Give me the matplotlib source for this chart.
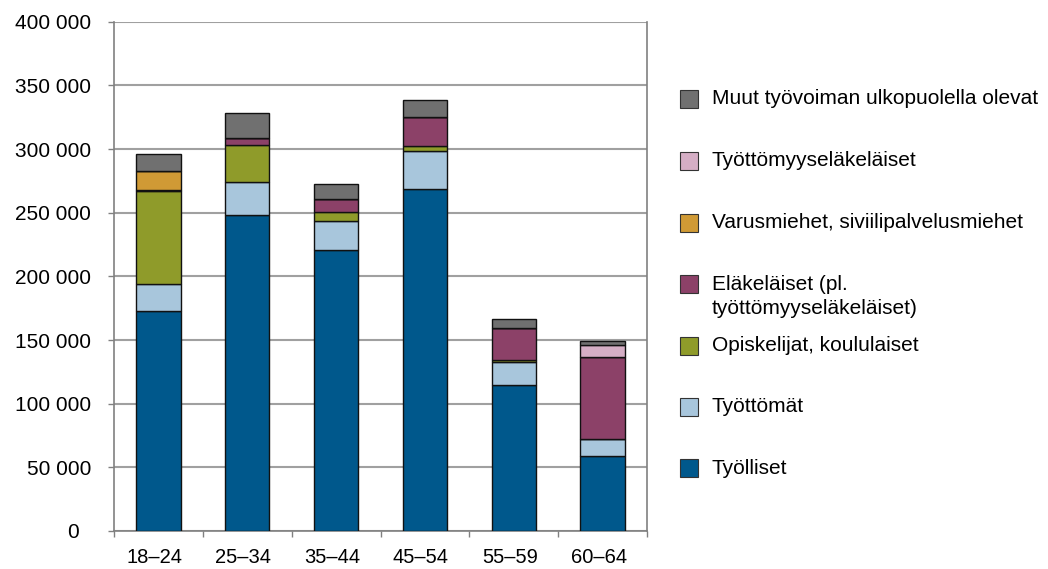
import matplotlib
matplotlib.use("Agg")
import matplotlib.pyplot as plt
from matplotlib.patches import Rectangle
from matplotlib.transforms import ScaledTranslation
import numpy as np

plt.rcParams['font.family'] = ['Liberation Sans', 'DejaVu Sans']

categories = ["18–24", "25–34", "35–44", "45–54", "55–59", "60–64"]

tyolliset = [172500, 248000, 220500, 268600, 114400, 58900]
tyottomat = [21200, 26000, 22700, 29800, 18600, 13100]
opiskelijat = [73300, 29500, 7100, 4200, 1000, 0]
elakelaiset = [1000, 4900, 10200, 22800, 25700, 65000]
varusmiehet = [15000, 500, 0, 0, 0, 0]
tyottomyyselak = [0, 0, 0, 0, 0, 8700]
muut = [13000, 19600, 11800, 12800, 6600, 3300]

series_names = [
    "Työlliset",
    "Työttömät",
    "Opiskelijat, koululaiset",
    "Eläkeläiset (pl.\ntyöttömyyseläkeläiset)",
    "Varusmiehet, siviilipalvelusmiehet",
    "Työttömyyseläkeläiset",
    "Muut työvoiman ulkopuolella olevat",
]
series_values = [tyolliset, tyottomat, opiskelijat, elakelaiset,
                 varusmiehet, tyottomyyselak, muut]
colors = ["#00588C", "#A8C6DC", "#8F9B2A", "#8C4168",
          "#D09A35", "#D5AEC5", "#707070"]

FS = 14.5
FS_Y = 15
FS_LEG = 15

fig = plt.figure(figsize=(10.48, 5.69), dpi=100)
ax = fig.add_axes([114/1048, 1-531/569, (647-114)/1048, (531-21.7)/569])

x = np.arange(len(categories))
bottom = np.zeros(len(categories))
for vals, c in zip(series_values, colors):
    v = np.array(vals, dtype=float)
    ax.bar(x, v, bottom=bottom, width=0.5, color=c, edgecolor="#111111",
           linewidth=1.0, zorder=3)
    bottom += v

ax.set_xlim(-0.5, len(categories) - 0.5)
ax.set_ylim(0, 400000)
yt = np.arange(0, 400001, 50000)
ax.set_yticks(yt)
ax.set_yticklabels(["0\u2007" if t == 0 else f"{t//1000} 000" for t in yt],
                   fontsize=FS_Y)
ax.yaxis.grid(True, color="#A0A0A0", linewidth=1.5, zorder=0)
ax.set_axisbelow(True)

ax.set_xticks(x)
ax.set_xticklabels(categories, fontsize=FS)
ax.set_xticks(np.arange(-0.5, len(categories)), minor=True)
ax.tick_params(axis='x', which='major', length=0, pad=12.5)
ax.tick_params(axis='x', which='minor', length=4.3, color="#808080", width=1)
ax.tick_params(axis='y', length=4.3, color="#808080", width=1, pad=12)
shift = ScaledTranslation(-4/100, 0, fig.dpi_scale_trans)
for lab in ax.get_xticklabels():
    lab.set_transform(lab.get_transform() + shift)

for s in ['left', 'bottom', 'right']:
    ax.spines[s].set_color("#808080")
    ax.spines[s].set_linewidth(1.2)
ax.spines['top'].set_visible(False)

# legend (manual, top to bottom in reverse series order)
leg_y = [99, 160.7, 222.7, 284, 345.7, 407, 468]
for i, (name, c) in enumerate(zip(series_names[::-1], colors[::-1])):
    yc = leg_y[i]
    fig.patches.append(Rectangle((680/1048, 1-(yc+9)/569), 18/1048, 18/569,
                                 transform=fig.transFigure, facecolor=c,
                                 edgecolor="#333333", linewidth=0.8))
    lines = name.split("\n")
    for j, line in enumerate(lines):
        fig.text(712/1048, 1-(yc + 24*j)/569, line, fontsize=FS_LEG,
                 va='center', ha='left')

fig.savefig("out.png", dpi=100)
